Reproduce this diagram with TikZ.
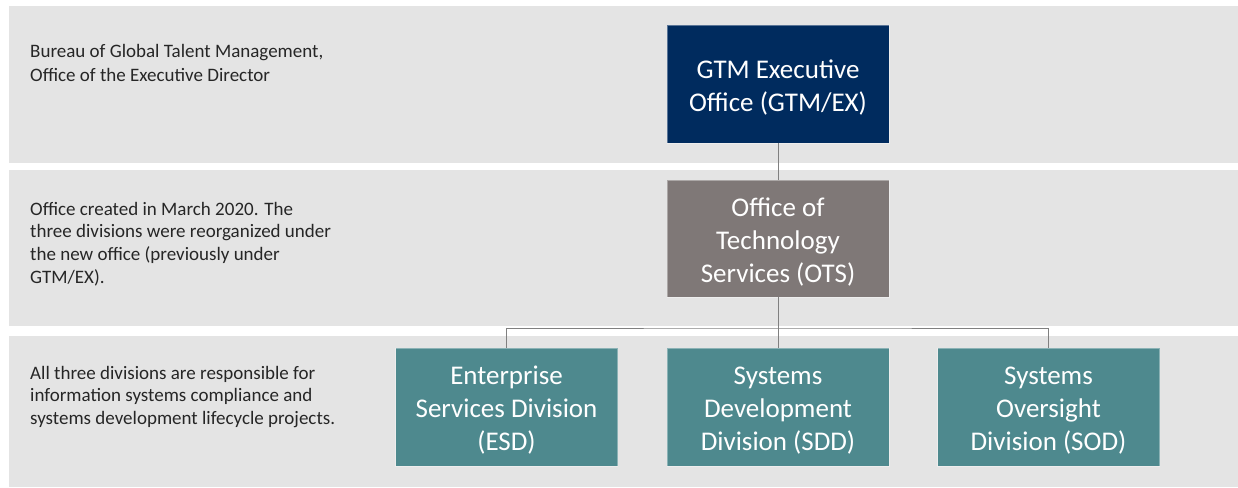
\documentclass[tikz,border=0pt]{standalone}
\usepackage{fontspec}
\setmainfont{Carlito}
\definecolor{band}{HTML}{E4E4E4}
\definecolor{navy}{HTML}{002B5E}
\definecolor{otsgray}{HTML}{7F7877}
\definecolor{teal}{HTML}{4E898E}
\definecolor{conn}{HTML}{808080}
\definecolor{lefttext}{HTML}{262626}
\tikzset{
  bandbox/.style={fill=band, draw=none},
  orgbox/.style={draw=white, draw opacity=0.35, line width=0.6pt,
    minimum width=222pt, minimum height=118pt, inner sep=0pt},
  boxtext/.style={text=white, inner sep=0pt, align=center,
    font=\fontsize{27}{33}\selectfont},
  exbox/.style={orgbox, fill=navy},
  otsbox/.style={orgbox, fill=otsgray},
  divbox/.style={orgbox, fill=teal},
  note/.style={anchor=base west, inner sep=0pt, text=lefttext},
  link/.style={draw=conn, line width=1pt},
}
\begin{document}
\begin{tikzpicture}[x=1pt,y=-1pt]
\useasboundingbox (0,0) rectangle (1238,487);
\fill[white] (0,0) rectangle (1238,487);
% bands
\path[bandbox] (9,6) rectangle (1238,163);
\path[bandbox] (9,170) rectangle (1238,326);
\path[bandbox] (9,336) rectangle (1238,487);
% left notes
\node[note] (n1) at (30,58) {\vtop{\fontsize{19}{23.2}\selectfont
  \hbox{Bureau of Global Talent Management,}\hbox{Office of the Executive Director}}};
\node[note] (n2) at (30,215) {\vtop{\fontsize{19}{22.7}\selectfont
  \hbox{Office created in March 2020. The}\hbox{three divisions were reorganized under}
  \hbox{the new office (previously under}\hbox{GTM/EX).}}};
\node[note] (n3) at (30,379) {\vtop{\fontsize{19}{22.7}\selectfont
  \hbox{All three divisions are responsible for}\hbox{information systems compliance and}
  \hbox{systems development lifecycle projects.}}};
% boxes
\node[exbox] (gtm) at (778,84) {};
\node[otsbox, minimum height=117pt] (ots) at (778,238.5) {};
\node[divbox] (esd) at (506.5,407) {};
\node[divbox] (sdd) at (778,407) {};
\node[divbox] (sod) at (1048.5,407) {};
% box texts
\node[boxtext] (tgtm) at ([yshift=-3.5pt]gtm.center) {GTM Executive\\Office (GTM/EX)};
\node[boxtext] (tots) at ([yshift=-3.5pt]ots.center) {Office of\\Technology\\Services (OTS)};
\node[boxtext] (tesd) at ([yshift=-3.5pt]esd.center) {Enterprise\\Services Division\\(ESD)};
\node[boxtext] (tsdd) at ([yshift=-3.5pt]sdd.center) {Systems\\Development\\Division (SDD)};
\node[boxtext] (tsod) at ([yshift=-3.5pt]sod.center) {Systems\\Oversight\\Division (SOD)};
\coordinate (bus) at (778,328);
% connectors
\draw[link] (gtm.south) -- (ots.north);
\draw[link] (ots.south) -- (sdd.north);
\draw[link] (esd.north) |- (bus) -| (sod.north);
\end{tikzpicture}
\end{document}
